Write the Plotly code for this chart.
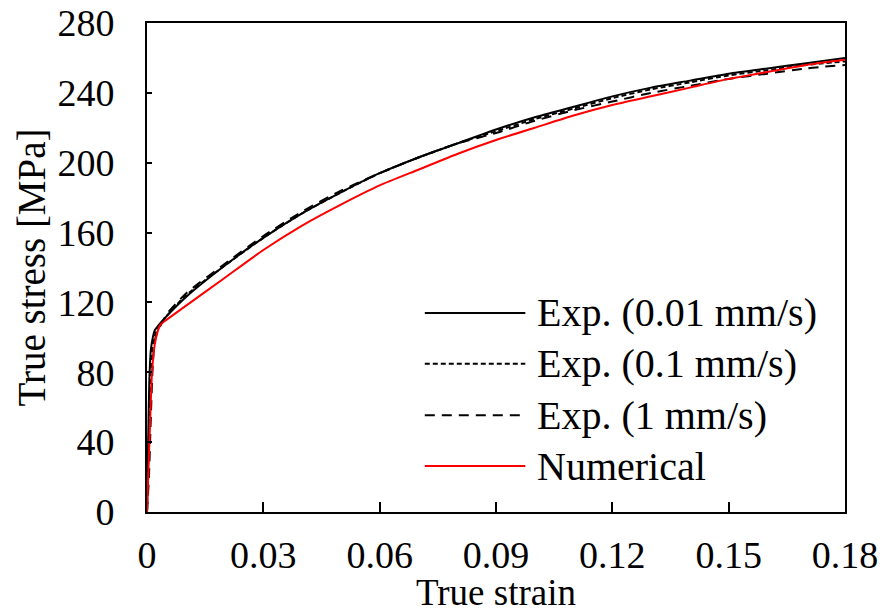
import plotly.graph_objects as go

# ---- data ----
strain_e1 = [0, 0.0003, 0.0006, 0.001, 0.0015, 0.002, 0.003, 0.005, 0.01, 0.02, 0.03, 0.04, 0.05,
             0.06, 0.07, 0.08, 0.09, 0.10, 0.11, 0.12, 0.13, 0.14, 0.15, 0.16, 0.17, 0.18]
stress_e1 = [0, 40, 75, 93, 100, 104, 107, 112, 123, 141, 157, 171, 183,
             194, 203, 211, 219, 226, 232, 238, 243, 247, 251, 254, 257, 260]

strain_e2 = [0, 0.0004, 0.0008, 0.0012, 0.0018, 0.0025, 0.0035, 0.005, 0.01, 0.02, 0.03, 0.04, 0.05,
             0.06, 0.07, 0.08, 0.09, 0.10, 0.11, 0.12, 0.13, 0.14, 0.15, 0.16, 0.17, 0.18]
stress_e2 = [0, 35, 70, 90, 99, 104, 107, 112, 124, 141, 157, 171, 183,
             194, 203, 211, 218, 225, 231, 237, 242, 246, 250, 253, 256, 258]

strain_e3 = [0, 0.0005, 0.001, 0.0015, 0.002, 0.0028, 0.0038, 0.005, 0.01, 0.02, 0.03, 0.04, 0.05,
             0.06, 0.07, 0.08, 0.09, 0.10, 0.11, 0.12, 0.13, 0.14, 0.15, 0.16, 0.17, 0.18]
stress_e3 = [0, 20, 55, 85, 98, 104, 108, 113, 125, 142, 158, 172, 184,
             194, 203, 211, 217, 224, 230, 235, 240, 244, 248, 251, 254, 256]

strain_num = [0, 0.0007, 0.0013, 0.002, 0.0027, 0.0034, 0.005, 0.01, 0.02, 0.03, 0.04, 0.05,
              0.06, 0.07, 0.08, 0.09, 0.10, 0.11, 0.12, 0.13, 0.14, 0.15, 0.16, 0.17, 0.18]
stress_num = [0, 45, 80, 96, 103, 107, 110, 118, 134, 150, 164, 176,
              187, 196, 205, 213, 220, 227, 233, 238, 243, 248, 252, 256, 259]

legend_labels = ["Exp. (0.01 mm/s)", "Exp. (0.1 mm/s)", "Exp. (1 mm/s)", "Numerical"]
x_ticks = [0, 0.03, 0.06, 0.09, 0.12, 0.15, 0.18]
x_tick_text = ["0", "0.03", "0.06", "0.09", "0.12", "0.15", "0.18"]
y_ticks = [0, 40, 80, 120, 160, 200, 240, 280]

# ---- styles ----
FONT = "Liberation Serif, Times New Roman, serif"
styles = [
    dict(color="black", width=2, dash="solid"),
    dict(color="black", width=2, dash="5px,3px"),
    dict(color="black", width=2, dash="10px,7px"),
    dict(color="#ff0000", width=2, dash="solid"),
]
series = [(strain_e1, stress_e1), (strain_e2, stress_e2), (strain_e3, stress_e3), (strain_num, stress_num)]

fig = go.Figure()
for (xs, ys), st, name in zip(series, styles, legend_labels):
    fig.add_trace(go.Scatter(x=xs, y=ys, mode="lines", name=name,
                             line=dict(**st, shape="spline", smoothing=0.6),
                             showlegend=False))

# manual legend (long sample lines like the reference)
leg_y = [0.407, 0.303, 0.198, 0.094]
shapes = []
annotations = []
for st, name, yy in zip(styles, legend_labels, leg_y):
    shapes.append(dict(type="line", xref="paper", yref="paper", x0=0.398, x1=0.542, y0=yy, y1=yy,
                       line=dict(color=st["color"], width=2, dash=st["dash"])))
    annotations.append(dict(xref="paper", yref="paper", x=0.556, y=yy, text=name, showarrow=False,
                            xanchor="left", yanchor="middle", font=dict(family=FONT, size=40, color="black")))

fig.update_layout(
    width=887, height=613,
    margin=dict(l=147, r=42, t=23, b=101, autoexpand=False),
    paper_bgcolor="white", plot_bgcolor="white",
    font=dict(family=FONT, size=38, color="black"),
    shapes=shapes, annotations=annotations,
    showlegend=False,
)
fig.update_xaxes(range=[0, 0.18], tickvals=x_ticks, ticktext=x_tick_text,
                 showline=True, linecolor="black", linewidth=2, mirror=True,
                 ticks="inside", ticklen=10, tickwidth=2, tickcolor="black",
                 showgrid=False, zeroline=False, automargin=True,
                 title=dict(text="True strain", standoff=2, font=dict(size=37)),
                 tickfont=dict(size=38), ticklabelstandoff=8)
fig.update_yaxes(range=[0, 280], tickvals=y_ticks,
                 showline=True, linecolor="black", linewidth=2, mirror=True,
                 ticks="inside", ticklen=5, tickwidth=2, tickcolor="black",
                 showgrid=False, zeroline=False, automargin=False,
                 title=dict(text="True stress [MPa]", standoff=0, font=dict(size=39)),
                 tickfont=dict(size=38), ticklabelstandoff=23)

fig.write_html("out.html")
